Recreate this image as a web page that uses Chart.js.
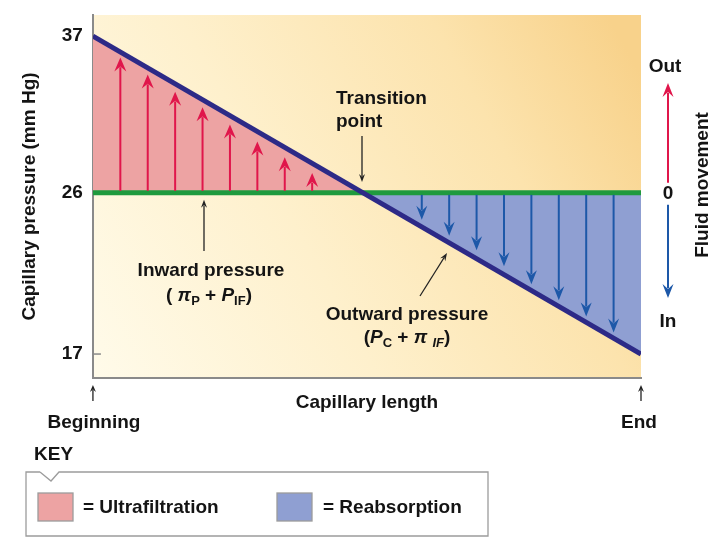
<!DOCTYPE html>
<html>
<head>
<meta charset="utf-8">
<script src="https://cdn.jsdelivr.net/npm/chart.js@4.4.0/dist/chart.umd.min.js"></script>
<style>
  html, body { margin: 0; padding: 0; background: #fff; }
</style>
</head>
<body>
<canvas id="capChart" width="727" height="539"></canvas>
<script>
// capillary length in % from beginning to end
const lengthPct = [0, 100];
const outwardPressure = [37, 17];   // Pc + pi_IF, mm Hg
const inwardPressure = [26, 26];    // pi_P + P_IF, mm Hg
const yTicks = [17, 26, 37];

// fluid movement arrows: position along capillary and tip pressure
const redArrowX = [5, 10, 15, 20, 25, 30, 35, 40];
const redArrowTip = [35.5, 34.3, 33.1, 32.0, 30.8, 29.6, 28.5, 27.4];
const blueArrowX = [60, 65, 70, 75, 80, 85, 90, 95];
const blueArrowTip = [24.5, 23.6, 22.8, 21.9, 20.9, 20.0, 19.1, 18.2];

const FAMILY = '"Liberation Sans", Arial, sans-serif';
const TXT = '#141414';

// the figure is not drawn to scale: each tick sits at its own spot on the axis
const tickSpots = [[17, 0.066], [26, 0.51], [37, 0.942]];
function valueToDecimal(v) {
  const i = v > tickSpots[1][0] ? 1 : 0;
  const [v0, d0] = tickSpots[i], [v1, d1] = tickSpots[i + 1];
  return d0 + (v - v0) * (d1 - d0) / (v1 - v0);
}
function decimalToValue(d) {
  const i = d > tickSpots[1][1] ? 1 : 0;
  const [v0, d0] = tickSpots[i], [v1, d1] = tickSpots[i + 1];
  return v0 + (d - d0) * (v1 - v0) / (d1 - d0);
}
class PressureScale extends Chart.LinearScale {
  getPixelForValue(value) {
    if (value === null || value === undefined) return NaN;
    return this.getPixelForDecimal(valueToDecimal(value));
  }
  getValueForPixel(pixel) {
    return decimalToValue(this.getDecimalForPixel(pixel));
  }
}
PressureScale.id = 'pressure';
PressureScale.defaults = Chart.LinearScale.defaults;
Chart.register(PressureScale);

function font(size, italic) {
  return (italic ? 'italic ' : '') + 'bold ' + size + 'px ' + FAMILY;
}

function arrow(ctx, x1, y1, x2, y2, color, width, headLen, headW) {
  const a = Math.atan2(y2 - y1, x2 - x1);
  const c = Math.cos(a), s = Math.sin(a);
  ctx.save();
  ctx.strokeStyle = color;
  ctx.fillStyle = color;
  ctx.lineWidth = width;
  ctx.beginPath();
  ctx.moveTo(x1, y1);
  ctx.lineTo(x2 - c * headLen * 0.7, y2 - s * headLen * 0.7);
  ctx.stroke();
  ctx.beginPath();
  ctx.moveTo(x2, y2);
  ctx.lineTo(x2 - c * headLen - s * headW / 2, y2 - s * headLen + c * headW / 2);
  ctx.lineTo(x2 - c * headLen * 0.65, y2 - s * headLen * 0.65);
  ctx.lineTo(x2 - c * headLen + s * headW / 2, y2 - s * headLen - c * headW / 2);
  ctx.closePath();
  ctx.fill();
  ctx.restore();
}

function text(ctx, str, x, y, align, size) {
  ctx.font = font(size || 19);
  ctx.fillStyle = TXT;
  ctx.textAlign = align || 'center';
  ctx.textBaseline = 'middle';
  ctx.fillText(str, x, y);
}

// text with subscripts, centred on cx
function runs(ctx, parts, cx, cy) {
  const fonts = parts.map(p => font(p.sub ? 13 : 19, p.it));
  const widths = parts.map((p, i) => { ctx.font = fonts[i]; return ctx.measureText(p.t).width; });
  let x = cx - widths.reduce((a, b) => a + b, 0) / 2;
  ctx.fillStyle = TXT;
  ctx.textAlign = 'left';
  ctx.textBaseline = 'middle';
  parts.forEach((p, i) => {
    ctx.font = fonts[i];
    ctx.fillText(p.t, x, cy + (p.sub ? 5 : 0));
    x += widths[i];
  });
}

const diagram = {
  id: 'diagram',
  beforeDraw(chart) {
    const { ctx, chartArea: a } = chart;
    ctx.save();
    ctx.fillStyle = '#fff';
    ctx.fillRect(0, 0, chart.width, chart.height);
    const g = ctx.createLinearGradient(a.left, a.bottom, a.right, a.top + 60);
    g.addColorStop(0, '#fffbea');
    g.addColorStop(0.4, '#fef0cc');
    g.addColorStop(0.75, '#fce3ad');
    g.addColorStop(1, '#f8d28b');
    ctx.fillStyle = g;
    ctx.fillRect(a.left, a.top, a.right - a.left, a.bottom - a.top);
    ctx.restore();
  },
  afterDatasetsDraw(chart) {
    const { ctx, scales: { x, y } } = chart;
    const base = y.getPixelForValue(inwardPressure[0]);
    redArrowX.forEach((v, i) => {
      arrow(ctx, x.getPixelForValue(v), base - 2, x.getPixelForValue(v), y.getPixelForValue(redArrowTip[i]),
        '#e0164b', 2, 14, 12);
    });
    blueArrowX.forEach((v, i) => {
      arrow(ctx, x.getPixelForValue(v), base + 2, x.getPixelForValue(v), y.getPixelForValue(blueArrowTip[i]),
        '#1d58a8', 2, 14, 11);
    });
    // small tick at 17
    const p17 = y.getPixelForValue(17);
    ctx.save();
    ctx.strokeStyle = '#8a8a8a';
    ctx.lineWidth = 1.5;
    ctx.beginPath();
    ctx.moveTo(x.left, p17);
    ctx.lineTo(x.left + 8, p17);
    ctx.stroke();
    ctx.restore();
  },
  afterDraw(chart) {
    const { ctx, chartArea: a, scales: { y } } = chart;
    const mid = y.getPixelForValue(inwardPressure[0]);

    // transition point
    text(ctx, 'Transition', 336, 99, 'left');
    text(ctx, 'point', 336, 122, 'left');
    arrow(ctx, 362, 136, 362, 182, '#222', 1.3, 8, 6);

    // inward pressure
    arrow(ctx, 204, 251, 204, mid + 7, '#222', 1.3, 8, 6);
    text(ctx, 'Inward pressure', 211, 271);
    runs(ctx, [{ t: '( ' }, { t: 'π', it: true }, { t: 'P', sub: true }, { t: ' + ' },
      { t: 'P', it: true }, { t: 'IF', sub: true }, { t: ')' }], 209, 296);

    // outward pressure
    arrow(ctx, 420, 296, 447, 253, '#222', 1.3, 8, 6);
    text(ctx, 'Outward pressure', 407, 315);
    runs(ctx, [{ t: '(' }, { t: 'P', it: true }, { t: 'C', sub: true }, { t: ' + ' },
      { t: 'π ', it: true }, { t: 'IF', sub: true, it: true }, { t: ')' }], 407, 338);

    // fluid movement indicator
    text(ctx, 'Out', 665, 67);
    arrow(ctx, 668, mid - 10, 668, 83, '#e0164b', 2, 14, 11);
    text(ctx, '0', 668, mid + 1);
    arrow(ctx, 668, mid + 12, 668, 298, '#1d58a8', 2, 14, 11);
    text(ctx, 'In', 668, 322);
    ctx.save();
    ctx.translate(703, 185);
    ctx.rotate(-Math.PI / 2);
    text(ctx, 'Fluid movement', 0, 0);
    ctx.restore();

    // beginning / end
    arrow(ctx, a.left, 401, a.left, 385, '#222', 1.3, 7, 6);
    arrow(ctx, a.right, 401, a.right, 385, '#222', 1.3, 7, 6);
    text(ctx, 'Beginning', 94, 423);
    text(ctx, 'End', 639, 423);

    // key
    text(ctx, 'KEY', 34, 455, 'left');
    ctx.save();
    ctx.strokeStyle = '#9c9c9c';
    ctx.lineWidth = 1.3;
    ctx.beginPath();
    ctx.moveTo(40, 472);
    ctx.lineTo(26, 472);
    ctx.lineTo(26, 536);
    ctx.lineTo(488, 536);
    ctx.lineTo(488, 472);
    ctx.lineTo(59, 472);
    ctx.lineTo(51, 481);
    ctx.lineTo(40, 472);
    ctx.stroke();
    ctx.fillStyle = '#eda3a3';
    ctx.fillRect(38, 493, 35, 28);
    ctx.strokeRect(38, 493, 35, 28);
    ctx.fillStyle = '#8f9fd2';
    ctx.fillRect(277, 493, 35, 28);
    ctx.strokeRect(277, 493, 35, 28);
    ctx.restore();
    text(ctx, '= Ultrafiltration', 83, 508, 'left');
    text(ctx, '= Reabsorption', 323, 508, 'left');
  }
};

new Chart(document.getElementById('capChart'), {
  type: 'line',
  data: {
    datasets: [
      {
        label: 'Outward pressure',
        data: lengthPct.map((v, i) => ({ x: v, y: outwardPressure[i] })),
        borderColor: '#2d2a87',
        borderWidth: 5,
        pointRadius: 0,
        fill: { target: { value: inwardPressure[0] }, above: '#eda3a3', below: '#8f9fd2' }
      },
      {
        label: 'Inward pressure',
        data: lengthPct.map((v, i) => ({ x: v, y: inwardPressure[i] })),
        borderColor: '#1f9a3e',
        borderWidth: 5,
        pointRadius: 0,
        fill: false
      }
    ]
  },
  options: {
    responsive: false,
    animation: false,
    layout: { padding: { left: 14, right: 86, top: 15, bottom: 120.6 } },
    plugins: {
      legend: { display: false },
      tooltip: { enabled: false },
      filler: { drawTime: 'beforeDatasetsDraw' }
    },
    scales: {
      x: {
        type: 'linear',
        min: 0,
        max: 100,
        grid: { display: false, drawTicks: false },
        ticks: { display: false },
        border: { color: '#8a8a8a', width: 2 },
        title: {
          display: true,
          text: 'Capillary length',
          color: TXT,
          font: { family: FAMILY, size: 19, weight: 'bold' },
          padding: { top: 13.6, bottom: 4 }
        }
      },
      y: {
        type: 'pressure',
        min: 15.66,
        max: 38.48,
        afterBuildTicks: (scale) => { scale.ticks = yTicks.map(v => ({ value: v })); },
        afterFit: (scale) => { scale.paddingTop = 0; scale.paddingBottom = 0; },
        grid: { display: false, drawTicks: false },
        ticks: { color: TXT, padding: 10, font: { family: FAMILY, size: 19, weight: 'bold' } },
        border: { color: '#8a8a8a', width: 2 },
        title: {
          display: true,
          text: 'Capillary pressure (mm Hg)',
          color: TXT,
          font: { family: FAMILY, size: 19, weight: 'bold' },
          padding: { top: 4, bottom: 11 }
        }
      }
    }
  },
  plugins: [diagram]
});
</script>
</body>
</html>
